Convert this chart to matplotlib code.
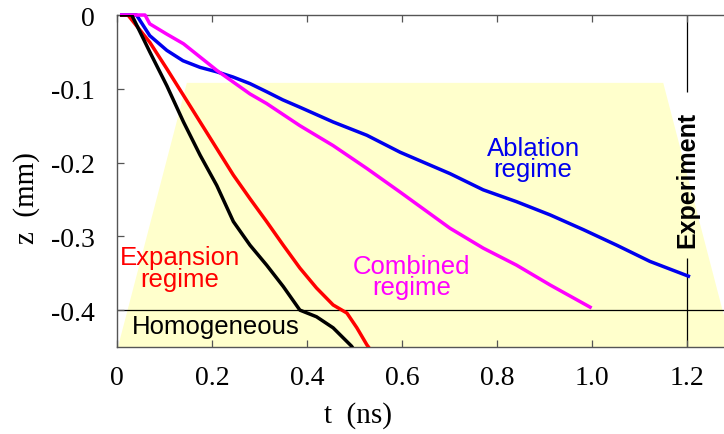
import matplotlib.pyplot as plt
from matplotlib.patches import Polygon

# --- data (t in ns, z in mm) ---
t_abl = [0.010, 0.041, 0.069, 0.105, 0.139, 0.175, 0.210, 0.244, 0.280, 0.315, 0.349, 0.385,
         0.455, 0.526, 0.596, 0.701, 0.771, 0.841, 0.912, 0.982, 1.052, 1.122, 1.203]
z_abl = [0.000, 0.000, -0.028, -0.048, -0.062, -0.071, -0.077, -0.084, -0.093, -0.104, -0.115, -0.125,
         -0.145, -0.163, -0.186, -0.215, -0.237, -0.253, -0.271, -0.291, -0.312, -0.334, -0.354]

t_comb = [0.010, 0.059, 0.069, 0.105, 0.140, 0.175, 0.210, 0.245, 0.280, 0.315, 0.385, 0.455,
          0.526, 0.596, 0.701, 0.771, 0.841, 0.912, 0.996]
z_comb = [0.000, 0.000, -0.012, -0.026, -0.039, -0.057, -0.075, -0.091, -0.107, -0.120, -0.150, -0.177,
          -0.208, -0.240, -0.289, -0.316, -0.339, -0.366, -0.396]

t_exp = [0.010, 0.023, 0.069, 0.105, 0.140, 0.175, 0.210, 0.245, 0.280, 0.315, 0.350, 0.385,
         0.420, 0.455, 0.484, 0.505, 0.526, 0.535]
z_exp = [0.000, 0.000, -0.037, -0.073, -0.109, -0.145, -0.181, -0.217, -0.249, -0.280, -0.312, -0.343,
         -0.370, -0.393, -0.404, -0.424, -0.447, -0.455]

t_hom = [0.010, 0.031, 0.069, 0.105, 0.140, 0.175, 0.210, 0.245, 0.280, 0.315, 0.350, 0.385,
         0.420, 0.455, 0.494, 0.500]
z_hom = [0.000, 0.000, -0.050, -0.096, -0.145, -0.190, -0.231, -0.280, -0.312, -0.339, -0.368, -0.400,
         -0.409, -0.424, -0.449, -0.455]

# yellow region (trapezoid) corners
zone_t = [0.147, 1.150, 1.295, 0.002]
zone_z = [-0.092, -0.092, -0.45, -0.45]

t_experiment = 1.2
z_limit = -0.4
# the vertical marker is broken where its label sits
exp_gap = (-0.104, -0.330)

xticks = [0, 0.2, 0.4, 0.6, 0.8, 1.0, 1.2]
xticklabels = ['0', '0.2', '0.4', '0.6', '0.8', '1.0', '1.2']
yticks = [0, -0.1, -0.2, -0.3, -0.4]
yticklabels = ['0', '-0.1', '-0.2', '-0.3', '-0.4']

serif = ['Liberation Serif', 'DejaVu Serif']
sans = ['Liberation Sans', 'DejaVu Sans']

fig = plt.figure(figsize=(7.24, 4.35), dpi=100)
# axes wider than the figure so the right spine falls outside, as in the reference
ax = fig.add_axes([117/724, 87/435, 1.3*475/724, 332/435])
ax.set_xlim(0, 1.3)
ax.set_ylim(-0.45, 0)

ax.add_patch(Polygon(list(zip(zone_t, zone_z)), closed=True, facecolor='#ffffcc',
                     edgecolor='none', zorder=0))

ax.axhline(z_limit, color='black', lw=0.9, zorder=1)
ax.vlines(t_experiment, exp_gap[0], 0, color='black', lw=0.9, zorder=1)
ax.vlines(t_experiment, -0.45, exp_gap[1], color='black', lw=0.9, zorder=1)

lw = 2.5
ax.plot(t_abl, z_abl, color='#0000ee', lw=lw, zorder=3, clip_on=False)
ax.plot(t_comb, z_comb, color='#ff00ff', lw=lw, zorder=3, clip_on=False)
ax.plot(t_exp, z_exp, color='#ff0000', lw=lw, zorder=3)
ax.plot(t_hom, z_hom, color='black', lw=lw, zorder=4)

fs = 18.5
ax.text(0.876, -0.195, 'Ablation\nregime', color='#0000ee', ha='center', va='center',
        fontsize=fs, family=sans, linespacing=0.85)
ax.text(0.62, -0.354, 'Combined\nregime', color='#ff00ff', ha='center', va='center',
        fontsize=fs, family=sans, linespacing=0.85)
ax.text(0.133, -0.343, 'Expansion\nregime', color='#ff0000', ha='center', va='center',
        fontsize=fs, family=sans, linespacing=0.85)
ax.text(0.207, -0.422, 'Homogeneous', color='black', ha='center', va='center',
        fontsize=fs, family=sans)
ax.text(t_experiment, -0.222, 'Experiment', color='black', ha='center', va='center',
        rotation=90, fontsize=18, fontweight='bold', family=sans)

ax.set_xticks(xticks)
ax.set_xticklabels(xticklabels, family=serif, fontsize=20)
ax.set_yticks(yticks)
ax.set_yticklabels(yticklabels, family=serif, fontsize=20)
ax.tick_params(direction='in', length=5, width=0.9, color='#555555', top=True)
ax.tick_params(axis='x', pad=13)
ax.tick_params(axis='y', pad=16)
ax.set_xlabel('t  (ns)', family=serif, fontsize=21)
ax.set_ylabel('z  (mm)', family=serif, fontsize=21)
ax.xaxis.set_label_coords((358 - 117) / (1.3 * 475), (33 - 87) / 332)
ax.yaxis.set_label_coords((40 - 117) / (1.3 * 475), (237 - 87) / 332)
for s in ax.spines.values():
    s.set_color('#555555')
    s.set_linewidth(1.0)
ax.spines['right'].set_visible(False)

fig.savefig('out.png', dpi=100)
